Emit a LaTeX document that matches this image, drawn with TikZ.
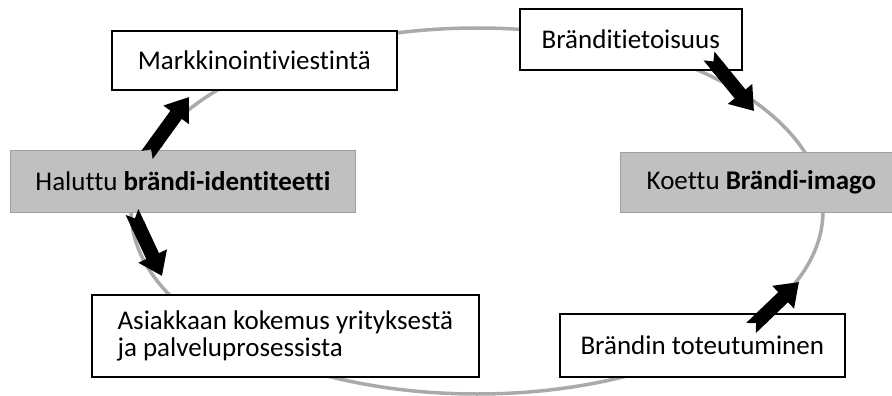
\documentclass[tikz,border=0pt]{standalone}
\usepackage{fontspec}
\setmainfont[Ligatures={NoCommon}]{Carlito}
\usepackage{tikz}
\usetikzlibrary{arrows.meta}
\definecolor{ringgray}{RGB}{170,170,170}
\definecolor{boxgray}{RGB}{192,192,192}
\definecolor{edgegray}{RGB}{160,160,160}
\tikzstyle{wbox} = [rectangle, draw=black, line width=1.6pt, fill=white, anchor=north west, align=left, inner sep=0pt]
\tikzstyle{gbox} = [rectangle, draw=edgegray, line width=0.8pt, fill=boxgray, anchor=north west, align=left, inner sep=0pt]
\tikzstyle{blk} = [line width=14pt, draw=black, {Triangle Cap[reversed]}-{Triangle[width=30pt, length=22pt]}]

\begin{document}
\begin{tikzpicture}[x=1pt, y=-1pt, font=\fontsize{27}{27}\selectfont]
\useasboundingbox (0,0) rectangle (892,396);
\draw [ringgray, line width=3.5pt] (477,211) ellipse [x radius=346, y radius=183];
\node [wbox, minimum width=285pt, minimum height=59pt] (M) at (111,30) {Markkinointiviestintä};
\node [wbox, minimum width=222pt, minimum height=61pt] (B) at (519,8) {Bränditietoisuus};
\node [gbox, minimum width=345pt, minimum height=62pt] (H) at (10,150) {Haluttu \textbf{brändi-identiteetti}};
\node [gbox, minimum width=282pt, minimum height=60pt] (K) at (620,152) {Koettu \textbf{Brändi-imago}};
\node [wbox, minimum width=387pt, minimum height=82pt] (A) at (91,294) {Asiakkaan kokemus yrityksestä\\ja palveluprosessista};
\node [wbox, minimum width=285pt, minimum height=63pt] (T) at (559,313) {Brändin toteutuminen};
% nuolet
\coordinate (h1) at (147,155);
\coordinate (m1) at (189,97);
\coordinate (h2) at (132,212);
\coordinate (a1) at (162,276);
\coordinate (b1) at (709,56);
\coordinate (k1) at (754,111);
\coordinate (t1) at (751,328);
\coordinate (k2) at (799,282);
\draw [blk] (h1) -- (m1);
\draw [blk] (h2) -- (a1);
\draw [blk] (b1) -- (k1);
\draw [blk] (t1) -- (k2);
\end{tikzpicture}
\end{document}
